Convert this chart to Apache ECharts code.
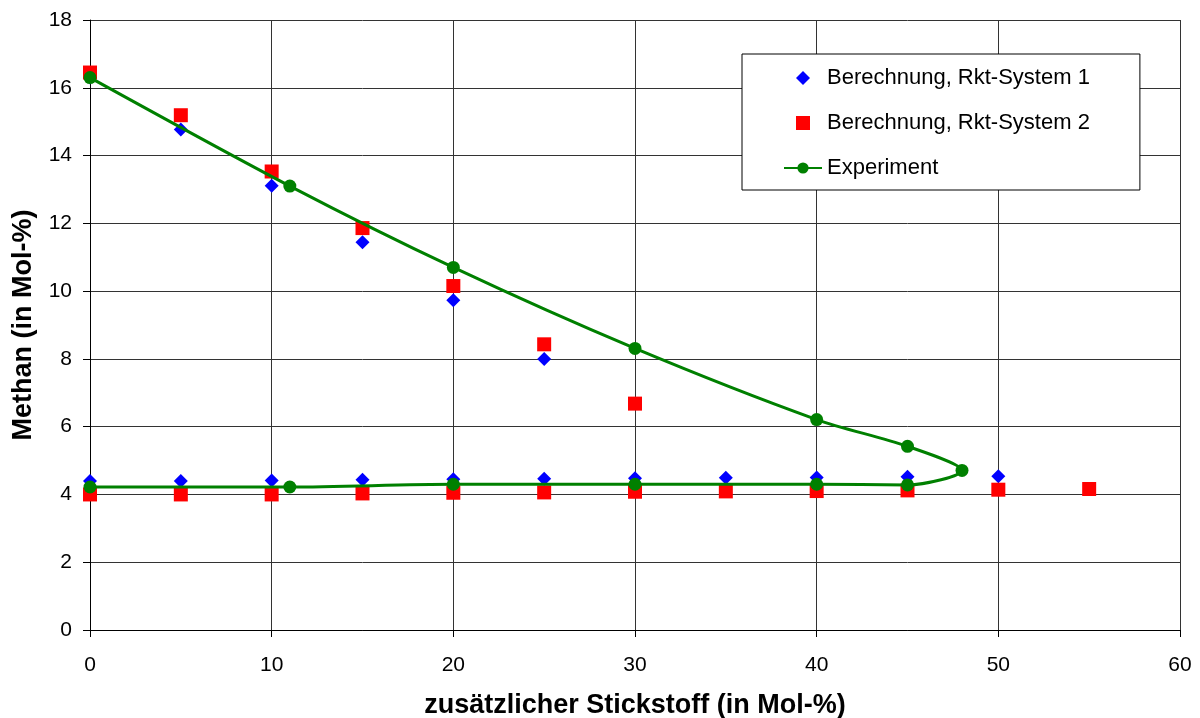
<!DOCTYPE html>
<html>
<head>
<meta charset="utf-8">
<script src="https://cdn.jsdelivr.net/npm/echarts@6/dist/echarts.min.js"></script>
<style>html,body{margin:0;padding:0;background:#fff}#c{width:1200px;height:718px}</style>
</head>
<body>
<div id="c"></div>
<script>
const sys1X = [0, 5, 10, 15, 20, 25, 0, 5, 10, 15, 20, 25, 30, 35, 40, 45, 50];
const sys1Y = [16.3, 14.77, 13.11, 11.44, 9.73, 8.0, 4.4, 4.4, 4.41, 4.43, 4.45, 4.46, 4.48, 4.49, 4.5, 4.52, 4.54];
const sys2X = [0, 5, 10, 15, 20, 25, 30, 0, 5, 10, 15, 20, 25, 30, 35, 40, 45, 50, 55];
const sys2Y = [16.45, 15.19, 13.53, 11.86, 10.15, 8.43, 6.68, 4.0, 4.0, 4.0, 4.03, 4.05, 4.06, 4.08, 4.09, 4.1, 4.12, 4.14, 4.16];
const expX = [0, 11, 20, 30, 40, 45, 48, 45, 40, 30, 20, 11, 0];
const expY = [16.3, 13.1, 10.7, 8.31, 6.21, 5.42, 4.71, 4.28, 4.3, 4.3, 4.3, 4.22, 4.22];
const seriesNames = ['Berechnung, Rkt-System 1', 'Berechnung, Rkt-System 2', 'Experiment'];
const xTitle = 'zusätzlicher Stickstoff (in Mol-%)';
const yTitle = 'Methan (in Mol-%)';

const zip = (a, b) => a.map((v, i) => [v, b[i]]);
const chart = echarts.init(document.getElementById('c'));
const font = 'Liberation Sans, Arial, sans-serif';
const axisCommon = {
  axisLine: { show: true, lineStyle: { color: '#000', width: 1 } },
  axisTick: { show: true, length: 7, lineStyle: { color: '#000' } },
  splitLine: { show: true, lineStyle: { color: '#333', width: 1 } },
  nameTextStyle: { fontFamily: font, fontSize: 27, fontWeight: 'bold', color: '#000' }
};
chart.setOption({
  animation: false,
  backgroundColor: '#fff',
  grid: { left: 90, right: 20, top: 20, bottom: 88, containLabel: false, outerBoundsMode: 'none' },
  xAxis: Object.assign({
    type: 'value', min: 0, max: 60, interval: 10,
    name: xTitle, nameLocation: 'middle', nameGap: 62,
    axisLabel: { fontFamily: font, fontSize: 21, color: '#000', margin: 25 }
  }, axisCommon),
  yAxis: Object.assign({
    type: 'value', min: 0, max: 18, interval: 2,
    name: yTitle, nameLocation: 'middle', nameGap: 53, nameRotate: 90,
    axisLabel: { fontFamily: font, fontSize: 21, color: '#000', margin: 18 }
  }, axisCommon),
  legend: {
    orient: 'vertical', left: 742, top: 54,
    backgroundColor: '#fff', borderColor: '#000', borderWidth: 1,
    padding: [13, 50, 11, 41], itemGap: 23, itemWidth: 38, itemHeight: 14,
    textStyle: { fontFamily: font, fontSize: 22, color: '#000', width: 270, overflow: 'none' },
    data: [
      { name: seriesNames[0], icon: 'path://M5,0 L10,5 L5,10 L0,5 Z' },
      { name: seriesNames[1], icon: 'path://M0,0 L10,0 L10,10 L0,10 Z' },
      { name: seriesNames[2] }
    ]
  },
  series: [
    { name: seriesNames[0], type: 'scatter', symbol: 'diamond', symbolSize: 14,
      itemStyle: { color: '#0000FF', opacity: 1 }, data: zip(sys1X, sys1Y), z: 2 },
    { name: seriesNames[1], type: 'scatter', symbol: 'rect', symbolSize: 14,
      itemStyle: { color: '#FF0000', opacity: 1 }, data: zip(sys2X, sys2Y), z: 3 },
    { name: seriesNames[2], type: 'line', smooth: 0.3, symbol: 'circle', symbolSize: 13,
      showAllSymbol: true,
      lineStyle: { color: '#008000', width: 3 }, itemStyle: { color: '#008000', opacity: 1 },
      data: zip(expX, expY), z: 4 }
  ]
});
</script>
</body>
</html>
